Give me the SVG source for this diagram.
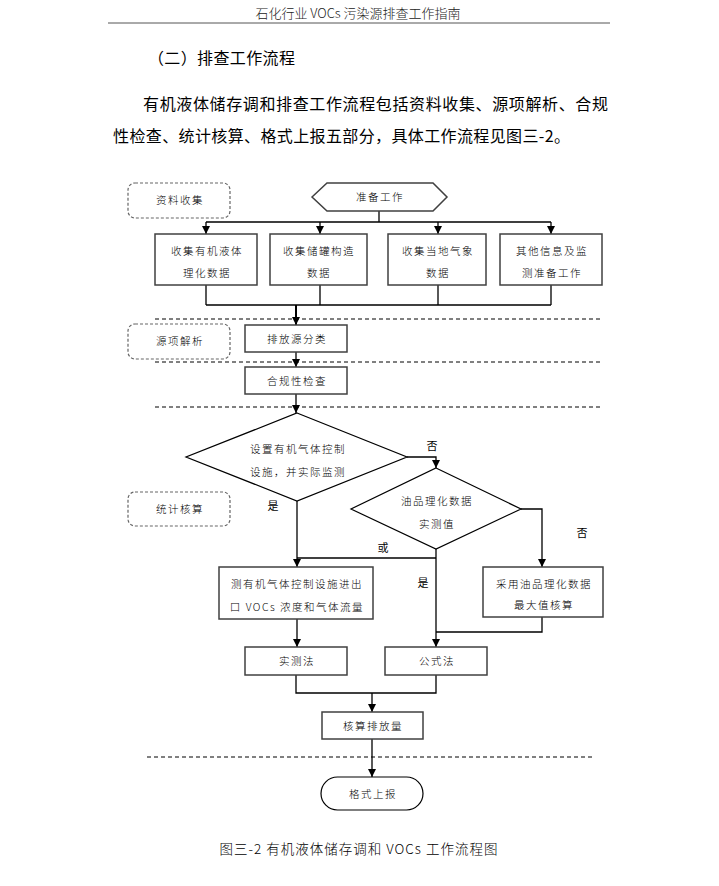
<svg xmlns="http://www.w3.org/2000/svg" width="719" height="886" viewBox="0 0 719 886">
<defs>
<marker id="ah" viewBox="0 0 8 8" refX="8" refY="4" markerWidth="8" markerHeight="8" markerUnits="userSpaceOnUse" orient="auto">
<path d="M0,0 L8,4 L0,8 z" fill="#000"/>
</marker>
<style>
.t{font-family:"Noto Sans CJK SC","Liberation Serif",serif;fill:#000;}
.hd{font-size:13px;fill:#222;font-weight:300;}
.p{font-size:16px;}
.bx{fill:#fff;stroke:#404040;stroke-width:1.5;}
.lb{fill:#fff;stroke:#666;stroke-width:1.2;stroke-dasharray:3,2;}
.bt{font-size:10.5px;letter-spacing:1.5px;text-anchor:middle;font-weight:300;}
.sm{font-size:11px;text-anchor:middle;}
.c{fill:none;stroke:#000;stroke-width:1.3;}
.ca{fill:none;stroke:#000;stroke-width:1.3;marker-end:url(#ah);}
.dl{fill:none;stroke:#000;stroke-width:1;stroke-dasharray:4,3;}
</style>
</defs>
<rect width="719" height="886" fill="#fff"/>

<text class="t hd" x="358" y="18" text-anchor="middle">石化行业 VOCs 污染源排查工作指南</text>
<line x1="108" y1="23" x2="610" y2="23" stroke="#555" stroke-width="1"/>

<text class="t p" x="148" y="64" textLength="147" lengthAdjust="spacing">（二）排查工作流程</text>
<text class="t p" x="143" y="110" textLength="465" lengthAdjust="spacing">有机液体储存调和排查工作流程包括资料收集、源项解析、合规</text>
<text class="t p" x="113" y="142" textLength="457" lengthAdjust="spacing">性检查、统计核算、格式上报五部分，具体工作流程见图三-2。</text>

<g id="dividers">
<line class="dl" x1="155" y1="319" x2="600" y2="319"/>
<line class="dl" x1="155" y1="362" x2="600" y2="362"/>
<line class="dl" x1="155" y1="407" x2="600" y2="407"/>
<line class="dl" x1="147" y1="757" x2="592" y2="757"/>
</g>

<g id="connectors">
<path class="c" d="M379,211 V222 M206,222 H551"/>
<path class="ca" d="M206,222 V234"/>
<path class="ca" d="M320,222 V234"/>
<path class="ca" d="M438,222 V234"/>
<path class="ca" d="M551,222 V234"/>
<path class="c" d="M206,285 V305 M320,285 V305 M438,285 V305 M551,285 V305 M206,305 H551"/>
<path class="ca" d="M296,305 V325" style="stroke-width:2"/>
<path class="ca" d="M296,352 V367"/>
<path class="ca" d="M296,394 V413"/>
<path class="ca" d="M407,457 H436 V468"/>
<path class="ca" d="M521,509 H542 V567"/>
<path class="ca" d="M297,501 V567"/>
<path class="c" d="M297,558 H436"/>
<path class="ca" d="M436,549 V647"/>
<path class="c" d="M542,617 V632 H436"/>
<path class="ca" d="M297,619 V647"/>
<path class="c" d="M296,675 V693 H436 V675"/>
<path class="ca" d="M372,693 V712"/>
<path class="ca" d="M372,739 V777"/>
<text class="t sm" x="432" y="450">否</text>
<text class="t sm" x="582" y="537">否</text>
<text class="t sm" x="273" y="510">是</text>
<text class="t sm" x="383" y="552">或</text>
<text class="t sm" x="423" y="587">是</text>
</g>

<g id="label-collect">
<rect class="lb" x="128" y="183" width="102" height="35" rx="7"/>
<text class="t bt" x="180" y="204">资料收集</text>
</g>
<g id="label-analysis">
<rect class="lb" x="128" y="324" width="102" height="35" rx="7"/>
<text class="t bt" x="180" y="345">源项解析</text>
</g>
<g id="label-stat">
<rect class="lb" x="128" y="492" width="102" height="34" rx="7"/>
<text class="t bt" x="180" y="513">统计核算</text>
</g>

<g id="prep">
<polygon class="bx" points="312,197 327,183 433,183 447,197 433,211 327,211"/>
<text class="t bt" x="380" y="201">准备工作</text>
</g>
<g id="box1">
<rect class="bx" x="155" y="234" width="102" height="51"/>
<text class="t bt" x="207" y="255">收集有机液体</text>
<text class="t bt" x="207" y="277">理化数据</text>
</g>
<g id="box2">
<rect class="bx" x="270" y="234" width="97" height="51"/>
<text class="t bt" x="319" y="255">收集储罐构造</text>
<text class="t bt" x="319" y="277">数据</text>
</g>
<g id="box3">
<rect class="bx" x="388" y="234" width="98" height="51"/>
<text class="t bt" x="438" y="255">收集当地气象</text>
<text class="t bt" x="438" y="277">数据</text>
</g>
<g id="box4">
<rect class="bx" x="500" y="234" width="102" height="51"/>
<text class="t bt" x="552" y="255">其他信息及监</text>
<text class="t bt" x="552" y="277">测准备工作</text>
</g>
<g id="classify">
<rect class="bx" x="245" y="325" width="102" height="27"/>
<text class="t bt" x="297" y="343">排放源分类</text>
</g>
<g id="compliance">
<rect class="bx" x="245" y="367" width="102" height="27"/>
<text class="t bt" x="297" y="385">合规性检查</text>
</g>
<g id="decision1">
<polygon class="bx" points="297,413 407,457 297,501 186,457" style="stroke:#000;stroke-width:1.2"/>
<text class="t bt" x="298" y="453">设置有机气体控制</text>
<text class="t bt" x="298" y="476">设施，并实际监测</text>
</g>
<g id="decision2">
<polygon class="bx" points="436,468 521,509 436,549 351,509" style="stroke:#000;stroke-width:1.2"/>
<text class="t bt" x="437" y="505">油品理化数据</text>
<text class="t bt" x="437" y="528">实测值</text>
</g>
<g id="measure-box">
<rect class="bx" x="219" y="567" width="154" height="52"/>
<text class="t bt" x="297" y="588">测有机气体控制设施进出</text>
<text class="t bt" x="297" y="611">口 VOCs 浓度和气体流量</text>
</g>
<g id="max-box">
<rect class="bx" x="483" y="567" width="120" height="50"/>
<text class="t bt" x="544" y="588">采用油品理化数据</text>
<text class="t bt" x="544" y="609">最大值核算</text>
</g>
<g id="measured">
<rect class="bx" x="245" y="647" width="102" height="28"/>
<text class="t bt" x="297" y="665">实测法</text>
</g>
<g id="formula">
<rect class="bx" x="385" y="647" width="102" height="28"/>
<text class="t bt" x="437" y="665">公式法</text>
</g>
<g id="calc">
<rect class="bx" x="322" y="712" width="101" height="27"/>
<text class="t bt" x="373" y="730">核算排放量</text>
</g>
<g id="report">
<rect class="bx" x="321" y="777" width="102" height="33" rx="16.5" style="stroke:#000;stroke-width:1.2"/>
<text class="t bt" x="373" y="798">格式上报</text>
</g>

<text class="t" x="359" y="854" font-size="13.5" font-weight="300" text-anchor="middle" letter-spacing="1">图三-2 有机液体储存调和 VOCs 工作流程图</text>
</svg>
